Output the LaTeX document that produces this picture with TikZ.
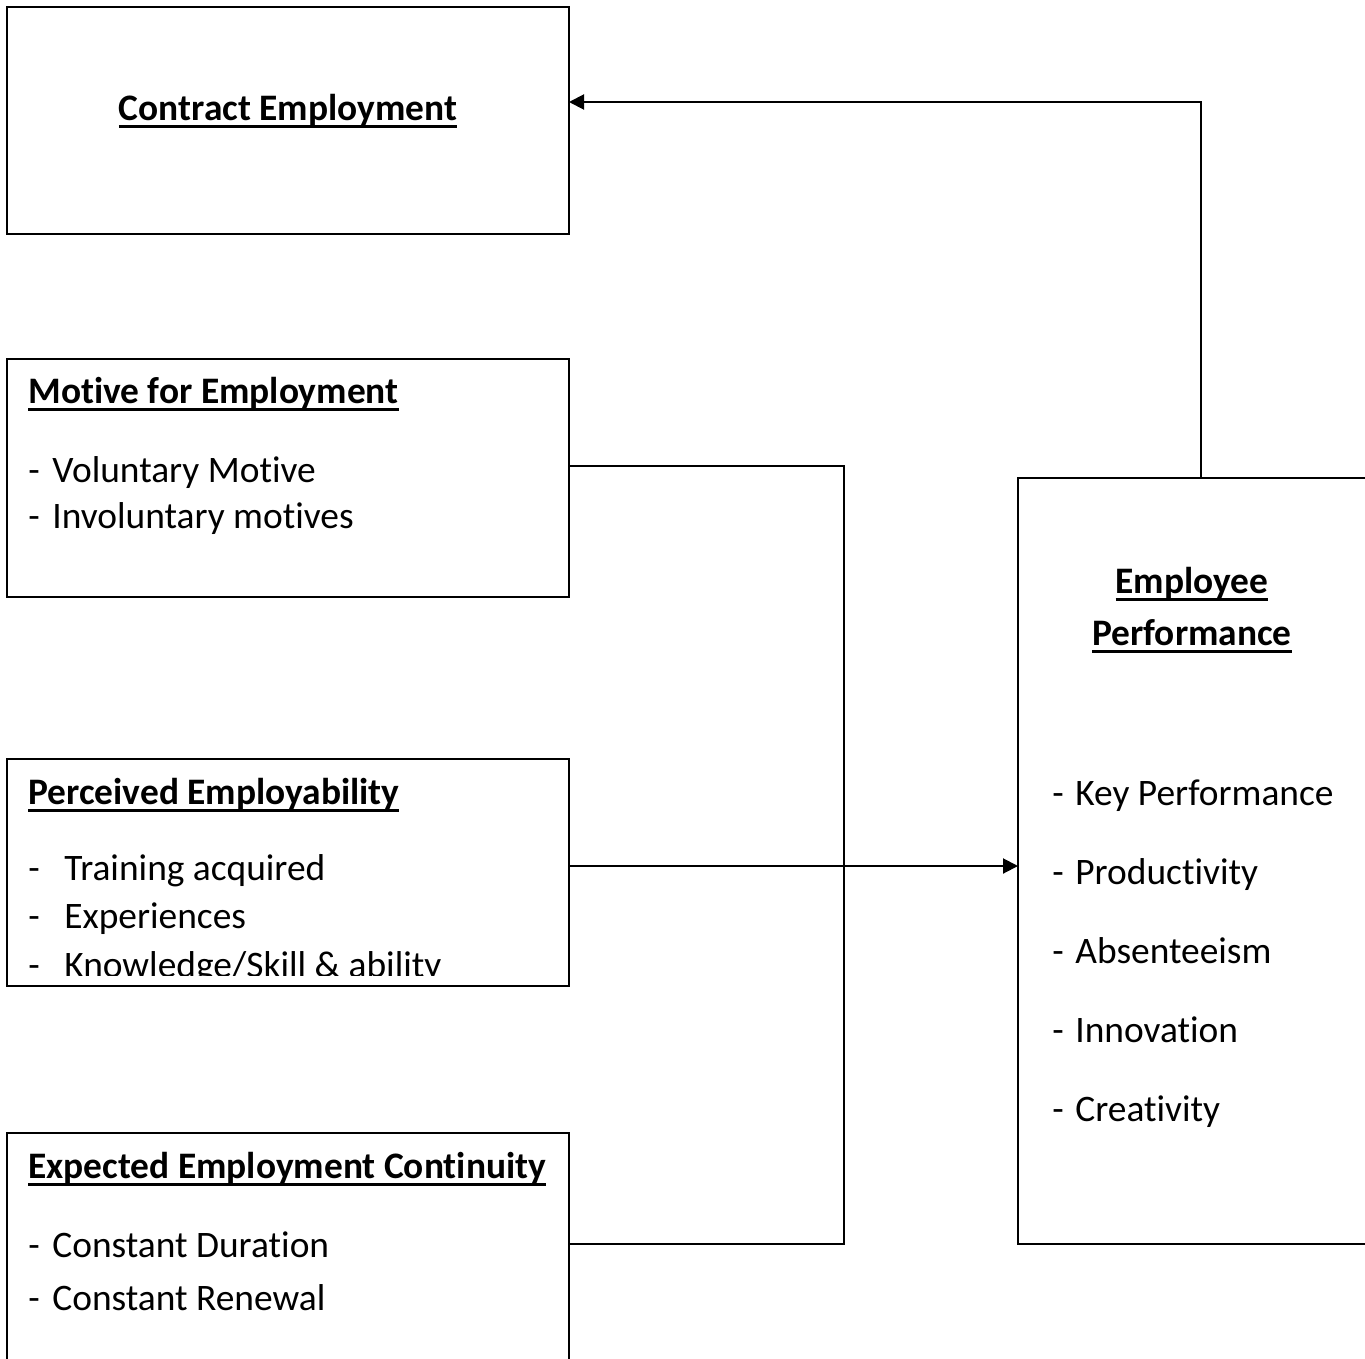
\documentclass[tikz,border=0pt]{standalone}
\usepackage{fontspec}
\setmainfont{Carlito}[Ligatures=NoCommon]
\usetikzlibrary{arrows.meta}
\newcommand\undl[1]{\setbox0\hbox{#1}\rlap{\rule[-4pt]{\wd0}{1.5pt}}#1}
\newcommand\itm[1][12pt]{\makebox[#1][l]{-}}

\begin{document}
\begin{tikzpicture}[x=0.5pt, y=-0.5pt,
    frame/.style={draw, line width=1pt, outer sep=0pt, inner sep=0pt,
                  anchor=north west, minimum width=281pt},
    lbl/.style={inner sep=0pt, anchor=base west, font=\fontsize{18.7}{22}\selectfont},
    head/.style={lbl, font=\fontsize{18.7}{22}\selectfont\bfseries},
    conn/.style={line width=1pt},
    arr/.style={conn, -{Triangle[length=7.5pt, width=7.5pt]}}]
  \useasboundingbox (0,0) rectangle (1365,1359);
  \clip (0,0) rectangle (1365,1359);

  % boxes
  \node[frame, minimum height=113.5pt] (contract) at (7,7) {};
  \node[frame, minimum height=119pt] (motive) at (7,359) {};
  \node[frame, minimum height=113.5pt] (percv) at (7,759) {};
  \node[frame, minimum height=133.5pt] (contin) at (7,1133) {};
  \node[frame, minimum width=183pt, minimum height=383pt] (perf) at (1018,478) {};

  % left column texts
  \node[head, anchor=base] (contract-t) at (288,120) {\undl{Contract Employment}};
  \node[head] (motive-t) at (28,403) {\undl{Motive for Employment}};
  \node[lbl] (motive-a) at (28,482) {\itm Voluntary Motive};
  \node[lbl] (motive-b) at (28,528) {\itm Involuntary motives};
  \node[head] (percv-t) at (28,804) {\undl{Perceived Employability}};
  \begin{scope}
    \clip (7,759) rectangle (569,975);
    \node[lbl] (percv-a) at (28,880) {\itm[18pt]Training acquired};
    \node[lbl] (percv-b) at (28,928) {\itm[18pt]Experiences};
    \node[lbl] (percv-c) at (28,977) {\itm[18pt]Knowledge/Skill \& ability};
  \end{scope}
  \node[head] (contin-t) at (28,1178) {\undl{Expected Employment Continuity}};
  \node[lbl] (contin-a) at (28,1257) {\itm Constant Duration};
  \node[lbl] (contin-b) at (28,1310) {\itm Constant Renewal};

  % right box texts
  \node[head, anchor=base] (perf-t1) at (1192,593) {\undl{Employee}};
  \node[head, anchor=base] (perf-t2) at (1192,645) {\undl{Performance}};
  \node[lbl] (perf-a) at (1052,805) {\itm[11.5pt]Key Performance};
  \node[lbl] (perf-b) at (1052,884) {\itm[11.5pt]Productivity};
  \node[lbl] (perf-c) at (1052,963) {\itm[11.5pt]Absenteeism};
  \node[lbl] (perf-d) at (1052,1042) {\itm[11.5pt]Innovation};
  \node[lbl] (perf-e) at (1052,1121) {\itm[11.5pt]Creativity};

  % connectors
  \coordinate (join) at (844,1244);
  \draw[conn] ([yshift=6pt]motive.east) -| (join) |- ([yshift=11.25pt]contin.east);
  \draw[arr] ([yshift=3.25pt]percv.east) -- ([yshift=-2.5pt]perf.west);
  \draw[arr] (perf.north) |- ([yshift=9.25pt]contract.east);
\end{tikzpicture}
\end{document}
